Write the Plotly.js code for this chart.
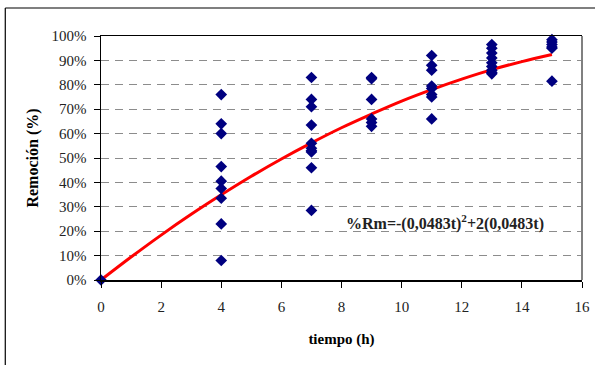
<!DOCTYPE html>
<html><head><meta charset="utf-8">
<script src="https://cdn.plot.ly/plotly-3.0.1.min.js"></script>
<style>html,body{margin:0;padding:0;background:#fff}#c{width:595px;height:365px}</style>
</head><body><div id="c"></div>
<script>
// measured points: time (h) and removal fraction
const t0 = [0];
const r0 = [0];
const t4 = [4,4,4,4,4,4,4,4,4];
const r4 = [0.76,0.64,0.60,0.465,0.405,0.375,0.335,0.23,0.08];
const t7 = [7,7,7,7,7,7,7,7,7,7];
const r7 = [0.83,0.74,0.71,0.635,0.56,0.54,0.53,0.525,0.46,0.285];
const t9 = [9,9,9,9,9,9];
const r9 = [0.83,0.825,0.74,0.66,0.645,0.63];
const t11 = [11,11,11,11,11,11,11,11];
const r11 = [0.92,0.88,0.86,0.795,0.785,0.76,0.75,0.66];
const t13 = [13,13,13,13,13,13,13,13,13];
const r13 = [0.965,0.95,0.93,0.91,0.89,0.875,0.86,0.85,0.845];
const t15 = [15,15,15,15,15,15];
const r15 = [0.985,0.975,0.965,0.955,0.95,0.815];
// fitted curve
const curveT = [0,1,2,3,4,5,6,7,8,9,10,11,12,13,14,15];
const curveR = [0,0.094,0.184,0.269,0.349,0.425,0.496,0.562,0.624,0.680,0.733,0.780,0.823,0.862,0.895,0.924];
const xTicks = [0,2,4,6,8,10,12,14,16];
const eqText = '%Rm=-(0,0483t)<sup>2</sup>+2(0,0483t)';

const xs = [].concat(t0,t4,t7,t9,t11,t13,t15);
const ys = [].concat(r0,r4,r7,r9,r11,r13,r15);

const font = 'Liberation Serif';
const data = [
  {x: curveT, y: curveR, mode: 'lines', type: 'scatter', line: {color: '#ff0000', width: 3, shape: 'spline'}, hoverinfo: 'skip', cliponaxis: false},
  {x: xs, y: ys, mode: 'markers', type: 'scatter', marker: {symbol: 'diamond', color: '#000080', size: 9}, cliponaxis: false}
];
const layout = {
  width: 595, height: 365,
  margin: {l: 101, r: 13, t: 36, b: 85},
  paper_bgcolor: '#fff', plot_bgcolor: '#fff',
  showlegend: false,
  font: {family: font, size: 15, color: '#222'},
  xaxis: {
    range: [0, 16], tickvals: xTicks, ticks: 'outside', ticklen: 6, tickcolor: '#000',
    ticklabelstandoff: 6,
    showline: true, linecolor: '#000', linewidth: 1.5, mirror: true,
    showgrid: false, zeroline: false,
    tickfont: {family: font, size: 15, color: '#222'},
    title: {text: '<b>tiempo (h)</b>', font: {family: font, size: 15, color: '#000'}, standoff: 20}
  },
  yaxis: {
    range: [0, 1], dtick: 0.1, tickformat: '.0%', ticks: 'outside', ticklen: 6, tickcolor: '#000',
    ticklabelstandoff: 4,
    showline: true, linecolor: '#000', linewidth: 1.5,
    showgrid: true, gridcolor: '#8c8c8c', griddash: '8px,6px', gridwidth: 1,
    zeroline: false,
    tickfont: {family: font, size: 15, color: '#222'},
    title: {text: '<b>Remoción (%)</b>', font: {family: font, size: 16, color: '#000'}, standoff: 9}
  },
  shapes: [
    {type: 'line', xref: 'paper', yref: 'paper', x0: 1, x1: 1, y0: 0, y1: 1, line: {color: '#808080', width: 2}},
    {type: 'line', xref: 'paper', yref: 'paper', x0: -0.199, x1: 1.05, y0: 1.1148, y1: 1.1148, line: {color: '#000', width: 1.2}},
    {type: 'line', xref: 'paper', yref: 'paper', x0: -0.199, x1: -0.199, y0: -0.4, y1: 1.1148, line: {color: '#000', width: 1.2}}
  ],
  annotations: [
    {text: '<b>' + eqText + '</b>', x: 11.45, y: 0.235, xref: 'x', yref: 'y', showarrow: false,
     font: {family: font, size: 16, color: '#222'}}
  ]
};
Plotly.newPlot('c', data, layout, {staticPlot: true, displayModeBar: false});
</script></body></html>
